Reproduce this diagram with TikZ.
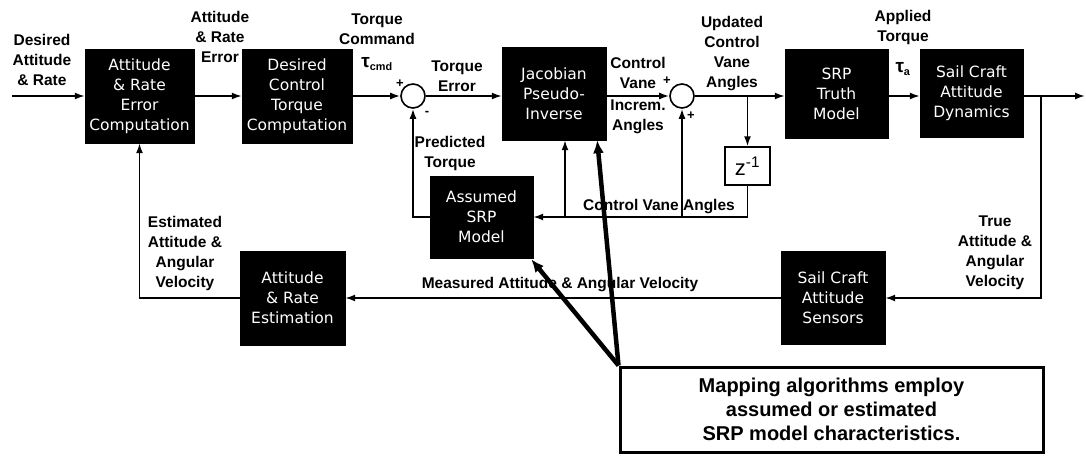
\documentclass[tikz,border=0pt]{standalone}
\usepackage{fontspec}
\setmainfont{Liberation Sans}
\newfontfamily\boxfont{DejaVu Sans}
\usetikzlibrary{arrows.meta}
\begin{document}
\begin{tikzpicture}[x=1pt,y=-1pt,
  blk/.style={fill=black, draw=black, text=white, align=center, inner sep=0pt,
    font=\boxfont\fontsize{15.5}{20}\selectfont},
  sumc/.style={circle, draw=black, line width=1.6pt, fill=white, minimum size=24pt, inner sep=0pt},
  zbox/.style={draw=black, line width=1.4pt, fill=white, minimum width=45pt, minimum height=38pt, inner sep=0pt,
    font=\fontsize{22}{22}\selectfont},
  mapbox/.style={draw=black, line width=3pt, fill=white, minimum width=423pt, minimum height=85pt, align=center,
    inner sep=0pt, font=\bfseries\fontsize{20}{24}\selectfont},
  lab/.style={font=\bfseries\fontsize{15.5}{20}\selectfont, align=center, inner sep=0pt},
  sgn/.style={font=\bfseries\fontsize{13}{14}\selectfont, inner sep=0pt},
  arr/.style={line width=1.7pt, -{Latex[length=10pt,width=7pt]}},
  bigarr/.style={line width=4.5pt, -{Latex[length=13pt,width=11pt]}}
]
\useasboundingbox (0,0) rectangle (1086,455);

% blocks
\node[blk, minimum width=109pt, minimum height=94pt] (arec) at (139.5,96) {Attitude\\\& Rate\\Error\\Computation};
\node[blk, minimum width=110pt, minimum height=94pt] (dctc) at (297,96) {Desired\\Control\\Torque\\Computation};
\node[sumc] (s1) at (413,96) {};
\node[blk, minimum width=104pt, minimum height=93pt] (jpi) at (554,93.5) {Jacobian\\Pseudo-\\Inverse};
\node[sumc] (s2) at (682,96) {};
\node[zbox] (zi) at (747.5,166) {z\textsuperscript{-1}};
\node[blk, minimum width=103pt, minimum height=89pt] (srpt) at (836.5,93.5) {SRP\\Truth\\Model};
\node[blk, minimum width=103pt, minimum height=88pt] (scad) at (971.5,93) {Sail Craft\\Attitude\\Dynamics};
\node[blk, minimum width=103pt, minimum height=82pt] (asrp) at (481.5,217) {Assumed\\SRP\\Model};
\node[blk, minimum width=105pt, minimum height=94pt] (are) at (292.5,298) {Attitude\\\& Rate\\Estimation};
\node[blk, minimum width=104pt, minimum height=93pt] (scas) at (833,298) {Sail Craft\\Attitude\\Sensors};
\node[mapbox] (map) at (831.5,409.5) {Mapping algorithms employ\\assumed or estimated\\SRP model characteristics.};

% helper coordinates
\coordinate (in) at (12,96);
\coordinate (out) at (1085,96);
\coordinate (b1) at (1041,96);
\coordinate (b2) at (747.5,96);
\coordinate (j1) at (565,217);
\coordinate (s2b) at (682,217);

% forward path
\draw[arr] (in) -- (in -| arec.west);
\draw[arr] (arec.east |- in) -- (in -| dctc.west);
\draw[arr] (dctc.east |- in) -- (s1);
\draw[arr] (s1) -- (s1 -| jpi.west);
\draw[arr] (jpi.east |- s2) -- (s2);
\draw[arr] (s2) -- (s2 -| srpt.west);
\draw[arr] (srpt.east |- in) -- (in -| scad.west);
\draw[arr] (scad.east |- in) -- (out);

% feedback
\draw[arr] (b1) |- (scas.east);
\draw[arr] (scas.west) -- (are.east);
\draw[arr] (are.west) -| (arec.south);
\draw[arr] (b2) -- (zi.north);
\draw[arr] (zi.south) |- (asrp.east);
\draw[arr] (j1) -- (j1 |- jpi.south);
\draw[arr] (s2b) -- (s2);
\draw[arr] (asrp.west) -| (s1.south);

% thick pointers
\draw[bigarr] (map.north west) -- ([xshift=-9pt]jpi.south east);
\draw[bigarr] (map.north west) -- ([xshift=-2pt,yshift=-1pt]asrp.south east);

% labels
\node[lab] (l1) at (42,60) {Desired\\Attitude\\\& Rate};
\node[lab] (l2) at (220,37) {Attitude\\\& Rate\\Error};
\node[lab] (l3) at (377,29) {Torque\\Command};
\node[lab] (l3b) at (377,64) {{\fontsize{19}{20}\selectfont τ}\textsubscript{cmd}};
\node[lab] (l4) at (457,76) {Torque\\Error};
\node[sgn] (p1) at (400,84) {+};
\node[sgn] (m1) at (427,113) {-};
\node[lab] (l5) at (450,153) {Predicted\\Torque};
\node[lab] (l6a) at (638,73) {Control\\Vane};
\node[lab] (l6b) at (638,117) {Increm.\\Angles};
\node[sgn] (p2) at (667,81) {+};
\node[sgn] (p3) at (691,116) {+};
\node[lab] (l7) at (732,54) {Updated\\Control\\Vane\\Angles};
\node[lab] (l8) at (903,27) {Applied\\Torque};
\node[lab] (l8b) at (903,69) {{\fontsize{19}{20}\selectfont τ}\textsubscript{a}};
\node[lab] (l9) at (659,207) {Control Vane Angles};
\node[lab] (l10) at (185,253) {Estimated\\Attitude \&\\Angular\\Velocity};
\node[lab] (l11) at (560,285) {Measured Attitude \& Angular Velocity};
\node[lab] (l12) at (995,253) {True\\Attitude \&\\Angular\\Velocity};
\end{tikzpicture}
\end{document}
